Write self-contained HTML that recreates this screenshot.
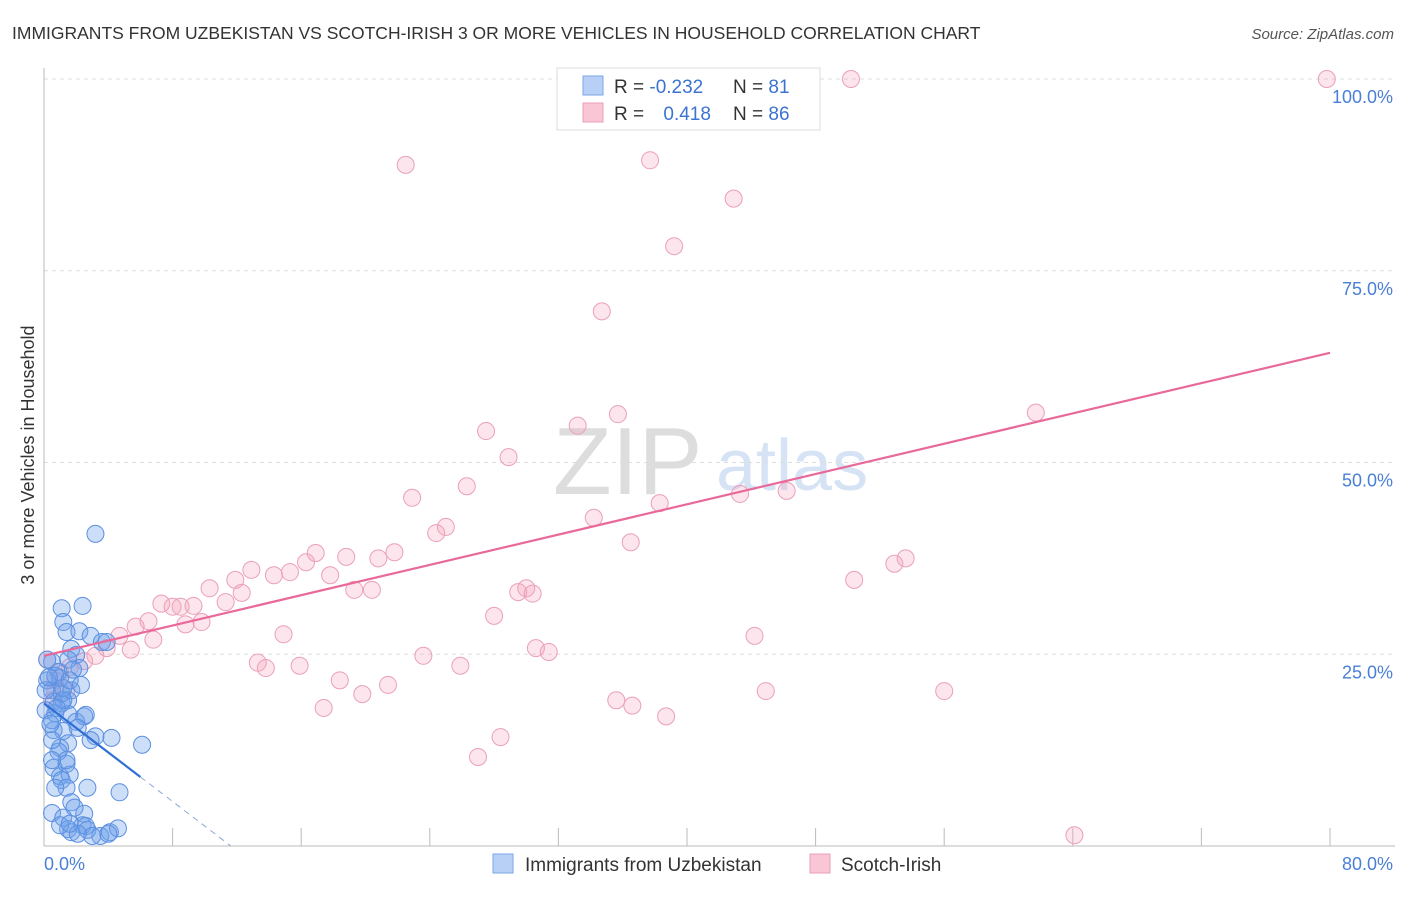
<!DOCTYPE html>
<html><head><meta charset="utf-8"><style>
body{margin:0;background:#fff;font-family:"Liberation Sans",sans-serif}
svg text{font-family:"Liberation Sans",sans-serif}
</style></head><body>
<svg id="chart" width="1406" height="892">
<text x="12" y="39" font-size="17.5" fill="#333">IMMIGRANTS FROM UZBEKISTAN VS SCOTCH-IRISH 3 OR MORE VEHICLES IN HOUSEHOLD CORRELATION CHART</text>
<text x="1394" y="39" font-size="15" fill="#555" font-style="italic" text-anchor="end">Source: ZipAtlas.com</text>
<g>
<text x="553" y="494" font-size="96" font-family="Liberation Serif" fill="#ddd">ZIP</text>
<text x="716" y="490" font-size="72" fill="#d6e3f5">atlas</text>
</g>
<g id="grid"></g><g id="axes"></g><g id="pts"></g><g id="lines"></g>
<text transform="translate(34,455) rotate(-90)" font-size="18" fill="#333" text-anchor="middle">3 or more Vehicles in Household</text>
<g>
<rect x="557" y="68" width="263" height="62" fill="#fff" stroke="#ddd"/>
<rect x="583" y="76" width="20" height="19" fill="#b8d0f5" stroke="#7aa6e8"/>
<rect x="583" y="103" width="20" height="19" fill="#f9c6d5" stroke="#eba0b8"/>
<text x="614" y="93" font-size="19" fill="#333">R = <tspan fill="#3b73d1">-0.232</tspan></text>
<text x="733" y="93" font-size="19" fill="#333">N = <tspan fill="#3b73d1"> 81</tspan></text>
<text x="614" y="120" font-size="19" fill="#333">R = <tspan fill="#3b73d1" dx="14">0.418</tspan></text>
<text x="733" y="120" font-size="19" fill="#333">N = <tspan fill="#3b73d1">86</tspan></text>
</g>
<g>
<rect x="493" y="854" width="20" height="19" fill="#b8d0f5" stroke="#7aa6e8"/>
<text x="525" y="871" font-size="19" fill="#333">Immigrants from Uzbekistan</text>
<rect x="810" y="854" width="20" height="19" fill="#f9c6d5" stroke="#eba0b8"/>
<text x="841" y="871" font-size="19" fill="#333">Scotch-Irish</text>
</g>
</svg>
<script>
const yTicks=[25,50,75,100];
const yTickLabels=["25.0%","50.0%","75.0%","100.0%"];
const xTicks=[8,16,24,32,40,48,56,64,72,80];
const blueX=[3.2,1.1,2.4,1.2,1.4,2.2,2.9,3.6,1.7,0.5,2.0,0.9,1.0,0.2,0.5,1.5,0.6,1.1,0.1,0.7,1.5,2.0,2.5,2.6,1.2,0.6,3.2,4.2,6.1,1.5,1.0,0.6,1.0,1.4,1.6,1.1,1.4,2.7,4.7,0.7,0.5,1.7,2.5,1.2,1.5,2.4,2.7,1.7,3.5,4.1,4.6,0.9,0.5,1.1,1.7,2.2,0.2,0.7,1.2,1.6,2.1,2.9,0.5,1.4,1.9,1.0,2.6,0.1,3.9,1.5,0.5,4.0,3.0,2.1,1.6,1.2,0.3,0.8,2.3,1.8,0.4];
const blueY=[40.7,31.0,31.3,29.2,27.9,28.0,27.4,26.6,25.7,24.0,24.9,22.7,21.9,21.6,20.3,19.0,18.8,18.6,17.7,17.3,17.2,16.2,16.9,17.1,15.0,15.1,14.3,14.1,13.2,13.4,12.8,10.2,9.1,10.7,9.3,8.6,7.6,7.6,7.0,7.6,4.3,5.7,4.2,3.7,2.2,2.7,2.1,1.8,1.3,1.8,2.3,12.3,16.4,19.9,20.3,23.2,24.3,22.2,20.6,21.6,15.4,13.8,13.8,11.2,5.0,2.7,2.6,20.3,26.6,24.3,11.2,1.6,1.3,1.6,2.9,19.0,22.0,18.0,21.0,23.0,15.9];
const pinkX=[37.7,50.2,79.8,22.5,37.7,42.9,39.2,34.7,35.7,33.2,27.5,28.9,22.9,26.3,25.0,24.4,34.2,36.5,38.3,43.3,46.2,61.7,12.9,14.3,15.3,16.3,16.9,17.8,18.8,19.3,20.4,20.8,21.8,11.9,10.3,11.3,12.3,7.3,8.0,8.5,9.3,8.8,9.8,6.5,5.7,4.7,6.8,5.4,3.9,3.2,2.5,1.6,1.0,0.7,14.9,13.3,13.8,15.9,18.4,19.8,21.4,23.6,25.9,28.0,29.5,30.0,30.4,30.6,31.4,35.6,36.6,38.7,44.2,44.9,50.4,52.9,53.6,56.0,27.0,28.4,17.4,64.1,0.7,0.2,0.5,1.4];
const pinkY=[100,100,100,88.8,89.4,84.4,78.2,69.7,56.3,54.8,54.1,50.7,45.4,46.9,41.6,40.8,42.8,39.6,44.7,45.9,46.3,56.5,36.0,35.3,35.7,37.0,38.2,35.3,37.7,33.4,33.4,37.5,38.3,34.7,33.6,31.8,33.0,31.6,31.2,31.2,31.3,28.9,29.2,29.3,28.6,27.4,26.9,25.6,25.8,24.8,24.1,23.3,22.7,20.3,27.6,23.9,23.2,23.5,21.6,19.8,21.0,24.8,23.5,30.0,33.1,33.6,32.9,25.8,25.3,19.0,18.3,16.9,27.4,20.2,34.7,36.8,37.5,20.2,11.6,14.2,18.0,1.4,21.6,24.3,19.0,20.3];
const pinkTrend=[24.8,64.3];
const blueTrend=[18.6,-1.6];
const NS="http://www.w3.org/2000/svg";
const X=v=>44+v*16.075, Y=v=>846-v*7.67;
function mk(tag,parent,attrs){const e=document.createElementNS(NS,tag);for(const k in attrs)e.setAttribute(k,attrs[k]);document.getElementById(parent).appendChild(e);return e;}
yTicks.forEach((t,i)=>{
 const g=mk('line','grid',{x1:44,x2:1395,y1:Y(t),y2:Y(t),stroke:'#ddd','stroke-dasharray':'4,4'});
 
 
 const l=mk('text','axes',{x:1393,y:Y(t)+24,'font-size':18,fill:'#4a7fd6','text-anchor':'end'});
 l.textContent=yTickLabels[i];
 
 
});
const ax=mk('line','axes',{x1:44,x2:44,y1:68,y2:846,stroke:'#bbb'});


const bx=mk('line','axes',{x1:44,x2:1395,y1:846,y2:846,stroke:'#bbb'});


xTicks.forEach(t=>{
 const tk=mk('line','axes',{x1:X(t),x2:X(t),y1:828,y2:846,stroke:'#bbb'});
 
 
});
const x0=mk('text','axes',{x:44,y:870,'font-size':18,fill:'#4a7fd6'});x0.textContent='0.0%';


const x1=mk('text','axes',{x:1393,y:870,'font-size':18,fill:'#4a7fd6','text-anchor':'end'});x1.textContent='80.0%';


pinkX.forEach((v,i)=>{
 const c=mk('circle','pts',{cx:X(v),cy:Y(pinkY[i]),r:8.5,fill:'rgba(244,160,188,0.28)',stroke:'#eba0b8','stroke-width':1});
 
 
});
blueX.forEach((v,i)=>{
 const c=mk('circle','pts',{cx:X(v),cy:Y(blueY[i]),r:8.5,fill:'rgba(110,160,235,0.35)',stroke:'#5b8fe0','stroke-width':1});
 
 
});
const pl=mk('line','lines',{x1:X(0),y1:Y(pinkTrend[0]),x2:X(80),y2:Y(pinkTrend[1]),stroke:'#e8699a','stroke-width':2.2});


const bl=mk('line','lines',{x1:X(0),y1:Y(blueTrend[0]),x2:X(6),y2:Y(blueTrend[0]+blueTrend[1]*6),stroke:'#2f6fd6','stroke-width':2.2});


const xe=-blueTrend[0]/blueTrend[1];
const bd=mk('line','lines',{x1:X(6),y1:Y(blueTrend[0]+blueTrend[1]*6),x2:X(xe),y2:Y(0),stroke:'#8aa8d8','stroke-width':1,'stroke-dasharray':'6,5'});


</script>
</body></html>
